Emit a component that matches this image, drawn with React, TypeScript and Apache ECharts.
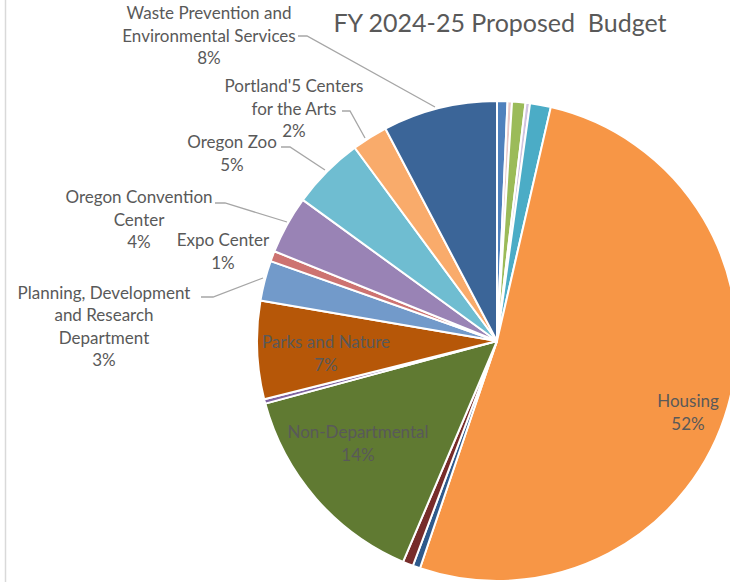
import React, { useEffect, useRef } from "react";
import * as echarts from "echarts";

const titleText = "FY 2024-25 Proposed  Budget";

const sliceNames = [
  "Other A", "Other B", "Other C", "Other D", "Other E",
  "Housing",
  "Other F", "Other G",
  "Non-Departmental",
  "Other H",
  "Parks and Nature",
  "Planning, Development\nand Research\nDepartment",
  "Expo Center",
  "Oregon Convention\nCenter",
  "Oregon Zoo",
  "Portland'5 Centers\nfor the Arts",
  "Waste Prevention and\nEnvironmental Services",
];

const sliceValues = [0.7, 0.3, 0.9, 0.3, 1.4, 51.6, 0.5, 0.7, 14.4, 0.3, 6.6, 2.7, 0.7, 3.9, 4.9, 2.4, 7.7];

const sliceColors = [
  "#4F81BD", "#E8C8C8", "#9BBB59", "#D0C4E0", "#4BACC6",
  "#F79646",
  "#2E5A8C", "#772C2A",
  "#607A32",
  "#8064A2",
  "#B65708",
  "#729ACA",
  "#CD7371",
  "#9983B5",
  "#6FBDD1",
  "#F9AB6B",
  "#3B6598",
];

const labeledSlices = [
  "Housing", "Non-Departmental", "Parks and Nature",
  "Planning, Development\nand Research\nDepartment", "Expo Center",
  "Oregon Convention\nCenter", "Oregon Zoo", "Portland'5 Centers\nfor the Arts",
  "Waste Prevention and\nEnvironmental Services",
];

// label layout (pixel positions of label centres and leader lines)
const labelPos: Record<string, { x: number; y: number; line?: number[][] }> = {
  "Housing": { x: 688, y: 412 },
  "Non-Departmental": { x: 358, y: 443 },
  "Parks and Nature": { x: 326, y: 353 },
  "Planning, Development\nand Research\nDepartment": { x: 104, y: 326, line: [[201, 297], [213, 297], [263, 278]] },
  "Expo Center": { x: 223, y: 251 },
  "Oregon Convention\nCenter": { x: 139, y: 219, line: [[215, 203], [225, 203], [287, 222]] },
  "Oregon Zoo": { x: 232, y: 153, line: [[281, 147], [290, 147], [325, 170]] },
  "Portland'5 Centers\nfor the Arts": { x: 294, y: 108, line: [[342, 111], [350, 111], [365, 138]] },
  "Waste Prevention and\nEnvironmental Services": { x: 209, y: 35, line: [[298, 36], [307, 36], [435, 107]] },
};

export default function App() {
  const ref = useRef<HTMLDivElement>(null);
  useEffect(() => {
    document.body.style.margin = "0";
    if (!ref.current) return;
    const chart = echarts.init(ref.current, undefined, { renderer: "svg" });
    const data = sliceNames.map((n, i) => {
      const shown = labeledSlices.includes(n);
      const hasLine = !!(labelPos[n] && labelPos[n].line);
      return {
        name: n,
        value: sliceValues[i],
        itemStyle: { color: sliceColors[i] },
        label: { show: shown },
        labelLine: { show: hasLine },
      };
    });
    chart.setOption({
      animation: false,
      title: {
        text: titleText,
        left: 495,
        top: 4,
        textAlign: "center",
        textStyle: { fontFamily: "Lato", fontSize: 25, fontWeight: "normal", color: "#595959" },
      },
      graphic: [
        { type: "line", shape: { x1: 5.5, y1: 0, x2: 5.5, y2: 582 }, style: { stroke: "#D9D9D9", lineWidth: 1.5 } },
      ],
      series: [
        {
          type: "pie",
          center: [497, 341],
          radius: 240,
          startAngle: 90,
          clockwise: true,
          avoidLabelOverlap: false,
          itemStyle: { borderColor: "#ffffff", borderWidth: 2 },
          label: {
            position: "outside",
            fontFamily: "Lato",
            fontSize: 17,
            lineHeight: 22.5,
            color: "#595959",
            textBorderWidth: 0,
            textBorderColor: "transparent",
            formatter: (p: any) => `${p.name}\n${Math.round(p.percent)}%`,
          },
          labelLine: { lineStyle: { color: "#A6A6A6", width: 1.3 } },
          labelLayout: (p: any) => {
            const name = sliceNames[p.dataIndex];
            const lp = labelPos[name];
            if (!lp) return {};
            const out: any = { x: lp.x, y: lp.y, align: "center", verticalAlign: "middle" };
            if (lp.line) out.labelLinePoints = lp.line;
            return out;
          },
          emphasis: { disabled: true },
          data,
        },
      ],
    });
    return () => chart.dispose();
  }, []);
  return <div ref={ref} style={{ position: "absolute", left: 0, top: 0, width: 730, height: 582 }} />;
}
